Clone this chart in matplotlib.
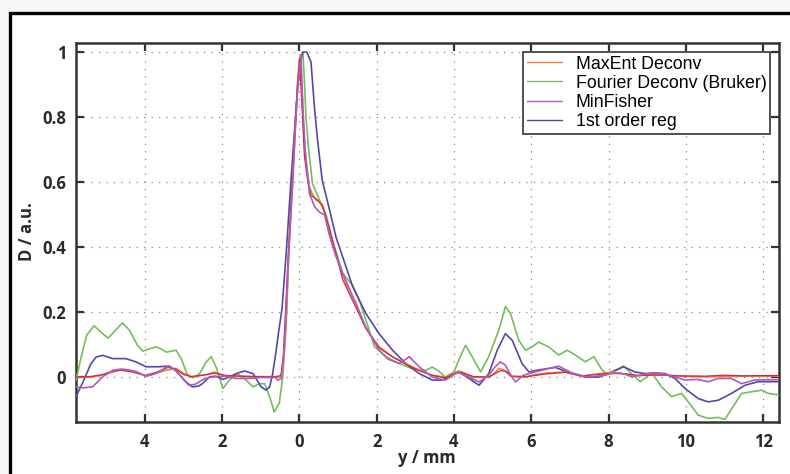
import matplotlib
matplotlib.use("Agg")
import matplotlib.pyplot as plt
from matplotlib.patches import Rectangle

# ---------------- data ----------------
maxent_x = [-5.78, -5.4, -5.1, -4.85, -4.66, -4.45, -4.23, -3.97, -3.75, -3.46, -3.2, -3.0, -2.8, -2.55,
            -2.34, -2.2, -1.98, -1.8, -1.5, -1.2, -0.9, -0.6, -0.5, -0.43, -0.39, -0.33, -0.28, -0.22,
            -0.17, -0.09, -0.04, 0.02, 0.07, 0.1, 0.15, 0.26, 0.35, 0.43, 0.52, 0.6, 0.69, 0.82, 0.99,
            1.2, 1.46, 1.72, 2.06, 2.41, 2.75, 3.1, 3.44, 3.78, 4.04, 4.13, 4.3, 4.47, 4.7, 4.9, 5.05,
            5.16, 5.29, 5.46, 5.65, 5.85, 6.1, 6.45, 6.88, 7.31, 7.6, 7.91, 8.1, 8.4, 8.7, 9.0, 9.5,
            10.0, 10.5, 11.0, 11.5, 12.0, 12.41]
maxent_y = [0.0, 0.0, 0.006, 0.015, 0.021, 0.02, 0.017, 0.003, 0.01, 0.021, 0.027, 0.012, 0.0, 0.005,
            0.009, 0.016, 0.006, 0.003, 0.002, 0.001, 0.0, 0.0, 0.0, 0.02, 0.083, 0.21, 0.38, 0.5,
            0.6, 0.8, 0.92, 0.99, 0.88, 0.78, 0.68, 0.585, 0.56, 0.545, 0.54, 0.53, 0.49, 0.42, 0.36,
            0.29, 0.23, 0.15, 0.094, 0.063, 0.042, 0.021, 0.006, 0.0, 0.016, 0.019, 0.01, 0.0, 0.0, 0.0,
            0.012, 0.027, 0.022, 0.003, 0.0, 0.0, 0.008, 0.013, 0.016, 0.003, 0.008, 0.013, 0.016, 0.01,
            0.004, 0.006, 0.006, 0.002, 0.001, 0.002, 0.003, 0.003, 0.003]

red_x = [-5.78, -5.4, -5.1, -4.85, -4.6, -4.3, -4.0, -3.7, -3.4, -3.2, -3.0, -2.8, -2.5, -2.2, -1.9,
         -1.5, -1.0, -0.6, -0.48, -0.42, -0.36, -0.3, -0.2, -0.12, -0.05, 0.0, 0.06, 0.13, 0.22, 0.3,
         0.47, 0.6, 0.77, 0.95, 1.12, 1.4, 1.72, 2.06, 2.41, 2.75, 3.1, 3.44, 3.78, 4.04, 4.2, 4.5,
         4.9, 5.2, 5.35, 5.5, 5.9, 6.4, 6.9, 7.3, 7.9, 8.3, 8.8, 9.3, 9.8, 10.5, 11.0, 11.5, 12.0, 12.41]
red_y = [0.0, 0.002, 0.008, 0.018, 0.022, 0.015, 0.005, 0.015, 0.03, 0.025, 0.008, 0.002, 0.006, 0.012,
         0.005, 0.003, 0.002, 0.002, 0.005, 0.06, 0.2, 0.35, 0.56, 0.75, 0.9, 0.98, 0.85, 0.68, 0.6, 0.56,
         0.545, 0.525, 0.46, 0.38, 0.3, 0.23, 0.15, 0.09, 0.062, 0.04, 0.02, 0.005, -0.002, 0.012, 0.015,
         0.002, 0.0, 0.02, 0.018, 0.003, 0.002, 0.01, 0.015, 0.004, 0.01, 0.012, 0.005, 0.007, 0.004,
         0.003, 0.006, 0.004, 0.005, 0.005]

fourier_x = [-5.78, -5.65, -5.5, -5.31, -5.15, -4.95, -4.75, -4.58, -4.4, -4.2, -4.05, -3.85, -3.71, -3.55,
             -3.45, -3.3, -3.19, -3.05, -2.9, -2.75, -2.58, -2.42, -2.28, -2.15, -1.98, -1.81, -1.63,
             -1.46, -1.2, -1.03, -0.9, -0.77, -0.65, -0.52, -0.43, -0.34, -0.25, -0.15, -0.05, 0.03, 0.09,
             0.13, 0.17, 0.24, 0.34, 0.52, 0.69, 0.86, 1.12, 1.25, 1.38, 1.55, 1.72, 1.94, 2.24, 2.58,
             2.92, 3.27, 3.44, 3.61, 3.78, 4.0, 4.15, 4.3, 4.47, 4.69, 4.9, 5.16, 5.33, 5.46, 5.68, 5.85,
             6.02, 6.19, 6.45, 6.71, 6.93, 7.14, 7.4, 7.62, 7.83, 7.96, 8.15, 8.39, 8.6, 8.82, 9.12, 9.37,
             9.63, 9.89, 10.1, 10.32, 10.58, 10.84, 11.01, 11.27, 11.44, 11.7, 11.96, 12.13, 12.41]
fourier_y = [-0.01, 0.06, 0.13, 0.158, 0.14, 0.12, 0.145, 0.167, 0.145, 0.1, 0.08, 0.088, 0.093, 0.085,
             0.077, 0.08, 0.083, 0.055, 0.008, -0.002, 0.011, 0.045, 0.063, 0.03, -0.035, -0.009, 0.011,
             0.0, -0.03, -0.02, -0.02, -0.06, -0.107, -0.08, 0.0, 0.17, 0.45, 0.7, 0.88, 0.97, 1.0,
             0.91, 0.8, 0.7, 0.595, 0.545, 0.5, 0.42, 0.32, 0.3, 0.283, 0.237, 0.176, 0.094, 0.063, 0.042,
             0.026, 0.021, 0.031, 0.018, 0.0, 0.016, 0.06, 0.098, 0.063, 0.016, 0.063, 0.145, 0.217, 0.196,
             0.113, 0.083, 0.093, 0.108, 0.093, 0.068, 0.083, 0.068, 0.047, 0.063, 0.022, 0.011, 0.02, 0.034,
             0.01, -0.014, 0.013, -0.03, -0.06, -0.05, -0.082, -0.117, -0.127, -0.124, -0.13, -0.082,
             -0.05, -0.045, -0.04, -0.05, -0.055]

minfisher_x = [-5.78, -5.6, -5.35, -5.2, -5.09, -4.83, -4.6, -4.4, -4.23, -3.97, -3.8, -3.63, -3.45, -3.37,
               -3.2, -3.05, -2.86, -2.7, -2.5, -2.34, -2.1, -1.91, -1.65, -1.31, -1.0, -0.62, -0.56, -0.47,
               -0.41, -0.36, -0.3, -0.2, -0.12, -0.05, 0.04, 0.09, 0.15, 0.26, 0.39, 0.5, 0.55, 0.65, 0.77,
               0.95, 1.12, 1.38, 1.72, 2.06, 2.3, 2.58, 2.75, 2.84, 2.95, 3.1, 3.44, 3.78, 4.04, 4.13, 4.39,
               4.65, 4.9, 5.05, 5.2, 5.33, 5.45, 5.59, 5.8, 6.1, 6.4, 6.71, 7.05, 7.48, 7.91, 8.1, 8.4, 8.6,
               8.9, 9.2, 9.5, 9.7, 9.98, 10.3, 10.58, 10.84, 11.18, 11.44, 11.78, 12.1, 12.41]
minfisher_y = [-0.03, -0.033, -0.03, -0.012, 0.001, 0.021, 0.025, 0.022, 0.017, 0.003, 0.008, 0.017, 0.03,
               0.034, 0.022, 0.0, -0.025, -0.022, -0.008, -0.001, 0.002, 0.003, -0.004, -0.004, -0.001,
               -0.001, -0.009, -0.005, 0.063, 0.16, 0.33, 0.55, 0.73, 0.88, 0.99, 0.83, 0.7, 0.565, 0.525,
               0.51, 0.505, 0.5, 0.44, 0.37, 0.32, 0.247, 0.154, 0.083, 0.055, 0.042, 0.055, 0.063, 0.05,
               0.032, 0.0, -0.009, 0.011, 0.014, 0.0, -0.015, 0.006, 0.03, 0.047, 0.037, 0.01, -0.015, 0.006,
               0.016, 0.025, 0.034, 0.013, 0.0, 0.006, 0.012, 0.01, 0.001, 0.008, 0.013, 0.008, 0.001, -0.009,
               -0.007, -0.014, -0.004, -0.004, -0.02, -0.009, -0.008, -0.008]

reg1_x = [-5.78, -5.6, -5.4, -5.26, -5.09, -4.83, -4.49, -4.23, -3.97, -3.63, -3.37, -3.2, -2.94, -2.77,
          -2.6, -2.51, -2.32, -2.17, -1.98, -1.82, -1.63, -1.42, -1.2, -0.99, -0.86, -0.77, -0.69, -0.6,
          -0.53, -0.45, -0.33, -0.22, -0.1, -0.04, 0.04, 0.09, 0.19, 0.3, 0.39, 0.47, 0.59, 0.77, 0.95,
          1.12, 1.38, 1.72, 2.06, 2.41, 2.75, 3.1, 3.44, 3.7, 4.04, 4.13, 4.39, 4.65, 4.9, 5.12, 5.33,
          5.51, 5.76, 5.94, 6.19, 6.62, 7.05, 7.4, 7.74, 8.0, 8.39, 8.68, 8.94, 9.2, 9.46, 9.72, 9.98,
          10.32, 10.58, 10.84, 11.18, 11.53, 11.87, 12.41]
reg1_y = [-0.06, -0.015, 0.04, 0.062, 0.067, 0.057, 0.057, 0.047, 0.032, 0.032, 0.034, 0.02, -0.014, -0.03,
          -0.027, -0.02, 0.001, 0.003, -0.007, 0.0, 0.011, 0.019, 0.011, -0.03, -0.04, -0.03, 0.011, 0.083,
          0.145, 0.21, 0.4, 0.6, 0.8, 0.9, 0.98, 1.0, 1.0, 0.97, 0.83, 0.73, 0.606, 0.52, 0.43,
          0.37, 0.278, 0.196, 0.134, 0.083, 0.042, 0.011, -0.009, -0.009, 0.011, 0.016, -0.004, -0.025,
          0.011, 0.083, 0.134, 0.113, 0.042, 0.016, 0.022, 0.03, 0.011, 0.0, 0.0, 0.011, 0.032, 0.016,
          0.011, 0.013, 0.011, -0.004, -0.035, -0.066, -0.076, -0.071, -0.05, -0.025, -0.014, -0.014]

x_ticks = [-4, -2, 0, 2, 4, 6, 8, 10, 12]
x_ticklabels = ["4", "2", "0", "2", "4", "6", "8", "10", "12"]
y_ticks = [0, 0.2, 0.4, 0.6, 0.8, 1.0]
y_ticklabels = ["0", "0.2", "0.4", "0.6", "0.8", "1"]

# ---------------- figure ----------------
W, H = 790, 474
fig = plt.figure(figsize=(W / 100, H / 100), dpi=100, facecolor="#f6f7f9")

border = Rectangle((10 / W, -0.1), 1.2, (H - 13) / H + 0.1, transform=fig.transFigure,
                   facecolor="white", edgecolor="black", linewidth=2.4, zorder=-5)
fig.add_artist(border)

ax = fig.add_axes([76 / W, 1 - 422 / H, (779 - 76) / W, (422 - 43) / H])
ax.set_facecolor("white")

lw = 1.2
common = dict(solid_joinstyle="round", solid_capstyle="round")
ax.plot(maxent_x, maxent_y, color="#e8823e", lw=lw, label="MaxEnt Deconv", zorder=4, **common)
ax.plot(fourier_x, fourier_y, color="#72bf5c", lw=lw, label="Fourier Deconv (Bruker)", zorder=3, **common)
ax.plot(minfisher_x, minfisher_y, color="#b05ac0", lw=lw, label="MinFisher", zorder=5, **common)
ax.plot(reg1_x, reg1_y, color="#5547a8", lw=lw, label="1st order reg", zorder=3, **common)
ax.plot(red_x, red_y, color="#d0283a", lw=0.9, label="_nolegend_", zorder=4, **common)

ax.set_xlim(-5.78, 12.41)
ax.set_ylim(-0.138, 1.028)
ax.set_xticks(x_ticks)
ax.set_xticklabels(x_ticklabels)
ax.set_yticks(y_ticks)
ax.set_yticklabels(y_ticklabels)

lab_family = ["Open Sans", "DejaVu Sans"]
for lab in ax.get_xticklabels() + ax.get_yticklabels():
    lab.set_fontfamily(lab_family)
    lab.set_fontweight("bold")
    lab.set_fontsize(12)
    lab.set_color("#2a2a2a")

ax.tick_params(direction="in", length=6, width=1.6, color="#333333",
               top=True, right=True, pad=7)
ax.tick_params(axis="x", pad=8)
for s in ax.spines.values():
    s.set_linewidth(1.8)
    s.set_color("#333333")

ax.grid(True, color="#888888", linestyle=(0, (1, 5)), linewidth=0.9)
ax.set_axisbelow(True)

leg = ax.legend(loc="upper right", bbox_to_anchor=((770 - 76) / (779 - 76), (422 - 52) / (422 - 43)),
                borderaxespad=0, frameon=True, fancybox=False, framealpha=1,
                prop=dict(family=["Liberation Sans", "DejaVu Sans"], size=12.8),
                handlelength=2.0, handletextpad=0.75, labelspacing=0.12, borderpad=0.2)
leg.get_frame().set_edgecolor("#333333")
leg.get_frame().set_linewidth(1.2)
for h in leg.get_lines():
    h.set_linewidth(1.0)

fig.text(427 / W, 1 - 458 / H, "y / mm", ha="center", va="center",
         family=lab_family, weight="bold", size=12, color="#2a2a2a")
fig.text(27 / W, 1 - 232 / H, "D / a.u.", ha="center", va="center", rotation=90,
         family=lab_family, weight="bold", size=12, color="#2a2a2a")

fig.savefig("out.png", dpi=100, facecolor=fig.get_facecolor())
